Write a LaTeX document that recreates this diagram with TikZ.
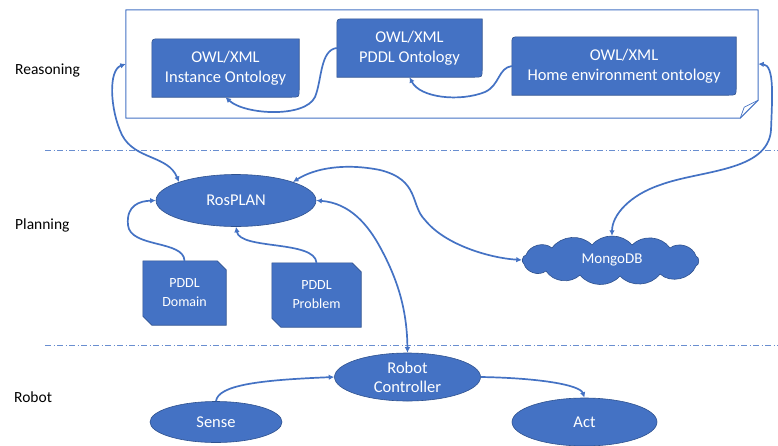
\documentclass[tikz,border=0pt]{standalone}
\usepackage{fontspec}
\setmainfont{Carlito}
\usetikzlibrary{shapes.geometric,arrows.meta,calc,backgrounds}
\definecolor{ofblue}{HTML}{4472C4}
\definecolor{ofdark}{HTML}{2F528F}
\definecolor{lnblue}{HTML}{4472C4}
\tikzset{
 shapefill/.style={fill=ofblue, draw=ofdark, line width=0.6pt},
 ovalnode/.style={ellipse, shapefill, text=white, font=\fontsize{16.5}{19}\selectfont, inner sep=0pt, align=center},
 ontonode/.style={text=white, font=\fontsize{16.5}{20}\selectfont, align=center, inner sep=0pt},
 docnode/.style={text=white, font=\fontsize{14}{19}\selectfont, align=center, inner sep=0pt},
 cloudnode/.style={text=white, font=\fontsize{15}{17}\selectfont, inner sep=0pt},
 conn/.style={draw=lnblue, line width=1.7pt, -{Latex[length=5.5pt,width=5.5pt]}},
 biconn/.style={conn, {Latex[length=5.5pt,width=5.5pt]}-{Latex[length=5.5pt,width=5.5pt]}},
 layerlabel/.style={anchor=west, font=\fontsize{15.5}{18}\selectfont, inner sep=0pt},
 sepline/.style={draw=lnblue!80, line width=0.8pt, dash pattern=on 6pt off 2.5pt on 1pt off 2.5pt},
 outerbox/.style={draw=lnblue, line width=1pt},
}
\newcommand{\roundDiag}[1]{%
 \path[shapefill] ($(#1.north west)+(0,8)$) .. controls (#1.north west) .. ($(#1.north west)+(8,0)$) -- (#1.north east) -- ($(#1.south east)+(0,-8)$) .. controls (#1.south east) .. ($(#1.south east)+(-8,0)$) -- (#1.south west) -- cycle;}
\newcommand{\snipDiag}[1]{%
 \path[shapefill] (#1.north west) -- ($(#1.north east)+(-9,0)$) -- ($(#1.north east)+(0,9)$) -- (#1.south east) -- ($(#1.south west)+(9,0)$) -- ($(#1.south west)+(0,-9)$) -- cycle;}
\newcommand{\cloudShape}[1]{%
 \path[shapefill] ($(#1)+(-86,-5)$)
  to[bend left=55] ($(#1)+(-60,-12)$)
  to[bend left=50] ($(#1)+(-20,-15)$)
  to[bend left=50] ($(#1)+(20,-15)$)
  to[bend left=50] ($(#1)+(58,-12)$)
  to[bend left=55] ($(#1)+(84,-4)$)
  to[bend left=70] ($(#1)+(84,6)$)
  to[bend left=55] ($(#1)+(48,14)$)
  to[bend left=50] ($(#1)+(8,16)$)
  to[bend left=50] ($(#1)+(-32,15)$)
  to[bend left=50] ($(#1)+(-66,11)$)
  to[bend left=55] ($(#1)+(-88,4)$)
  to[bend left=70] ($(#1)+(-86,-5)$) -- cycle;}
\begin{document}
\begin{tikzpicture}[x=1pt,y=-1pt]
\useasboundingbox (0,0) rectangle (778,445);

% layer labels
\node[layerlabel] (lreason) at (15,70) {Reasoning};
\node[layerlabel] (lplan) at (15,225) {Planning};
\node[layerlabel] (lrobot) at (14,397) {Robot};

% separators
\draw[sepline] (45,150) -- (778,150);
\draw[sepline] (45,345) -- (778,345);

% reasoning box
\node[minimum width=632pt, minimum height=108pt, inner sep=0pt] (rbox) at (442,64) {};
\draw[outerbox, line join=round] (rbox.north west) -- (rbox.north east) -- ($(rbox.south east)+(0,-18)$) -- ($(rbox.south east)+(-18,0)$) -- (rbox.south west) -- cycle;
\draw[outerbox, line width=0.7pt, line join=round] ($(rbox.south east)+(-18,0)$) -- ($(rbox.south east)+(-14,-11)$) .. controls ($(rbox.south east)+(-8,-14)$) .. ($(rbox.south east)+(0,-18)$);

% ontology boxes
\node[ontonode, minimum width=147pt, minimum height=58pt] (inst) at (225.5,68) {OWL/XML\\Instance Ontology};
\node[ontonode, minimum width=145pt, minimum height=58pt] (pont) at (409.5,48) {OWL/XML\\PDDL Ontology};
\node[ontonode, minimum width=224pt, minimum height=58pt] (home) at (624,66) {OWL/XML\\Home environment ontology};

% planning
\node[ovalnode, minimum width=160pt, minimum height=52pt] (ros) at (236,200.5) {RosPLAN};
\node[docnode, minimum width=83pt, minimum height=64pt] (dom) at (184.5,293) {PDDL\\Domain};
\node[docnode, minimum width=89pt, minimum height=64pt] (prob) at (316.5,295) {PDDL\\Problem};
\node[cloudnode, minimum width=180pt, minimum height=48pt] (mongo) at (612,260) {MongoDB};

% robot
\node[ovalnode, minimum width=146pt, minimum height=48pt] (ctrl) at (407.5,377) {Robot\\Controller};
\node[ovalnode, minimum width=132pt, minimum height=41pt] (sense) at (216,422) {Sense};
\node[ovalnode, minimum width=145pt, minimum height=48pt] (act) at (584.5,422) {Act};

\begin{scope}[on background layer]
 \fill[white] (0,0) rectangle (778,445);
 \roundDiag{inst}
 \roundDiag{pont}
 \roundDiag{home}
 \snipDiag{dom}
 \snipDiag{prob}
 \cloudShape{mongo}
\end{scope}

% connectors inside reasoning box
\draw[conn] (pont.west) .. controls (320,50) and (322,80) .. (315,97) .. controls (305,118) and (245,115) .. (inst.south);
\draw[conn] (home.west) .. controls (498,68) and (500,85) .. (485,92) .. controls (460,102) and (420,98) .. (pont.south);

% long connectors
\draw[biconn] (rbox.west) .. controls (108,70) and (110,110) .. (122,135) .. controls (135,160) and (168,155) .. (ros.162);
\draw[biconn] (rbox.east) .. controls (775,65) and (772,100) .. (771,130) .. controls (768,172) and (700,170) .. (660,185) .. controls (630,195) and (612,215) .. (mongo.north);
\draw[biconn] (ros.18) .. controls (315,168) and (345,163) .. (380,170) .. controls (420,180) and (410,205) .. (425,220) .. controls (445,245) and (490,258) .. (mongo.west);
\draw[biconn] (ros.east) .. controls (350,203) and (368,225) .. (380,247) .. controls (398,280) and (407,310) .. (ctrl.north);
\draw[conn] (dom.north) .. controls (184,240) and (130,248) .. (128,225) .. controls (126,205) and (140,201) .. (ros.west);
\draw[conn] (prob.north) .. controls (315,240) and (240,250) .. (ros.south);

% robot connectors
\draw[conn] (sense.north) .. controls (218,385) and (260,380) .. (ctrl.west);
\draw[conn] (ctrl.east) .. controls (540,378) and (580,385) .. (act.north);
\end{tikzpicture}
\end{document}
